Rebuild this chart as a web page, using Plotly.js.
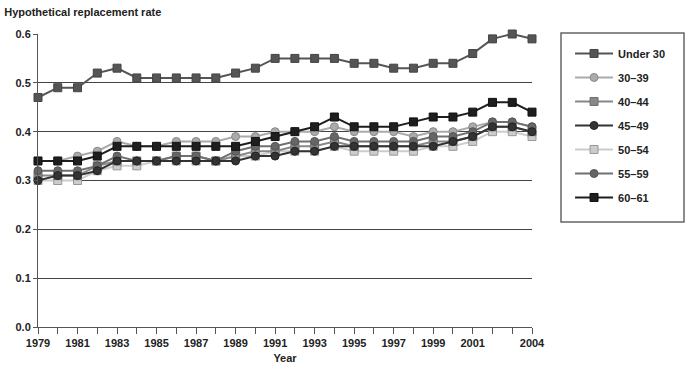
<!DOCTYPE html>
<html>
<head>
<meta charset="utf-8">
<script src="https://cdn.plot.ly/plotly-3.0.1.min.js"></script>
<style>html,body{margin:0;padding:0;background:#fff}#chart{width:700px;height:366px}</style>
</head>
<body>
<div id="chart"></div>
<script>
const years = [1979,1980,1981,1982,1983,1984,1985,1986,1987,1988,1989,1990,1991,1992,1993,1994,1995,1996,1997,1998,1999,2000,2001,2002,2003,2004];
const tickLabels = ['1979','','1981','','1983','','1985','','1987','','1989','','1991','','1993','','1995','','1997','','1999','','2001','','','2004'];
const yTicks = [0,0.1,0.2,0.3,0.4,0.5,0.6];

const under30 = [.47,.49,.49,.52,.53,.51,.51,.51,.51,.51,.52,.53,.55,.55,.55,.55,.54,.54,.53,.53,.54,.54,.56,.59,.60,.59];
const age30_39 = [.34,.34,.35,.36,.38,.37,.37,.38,.38,.38,.39,.39,.40,.40,.40,.41,.40,.40,.40,.39,.40,.40,.41,.42,.42,.41];
const age40_44 = [.31,.31,.31,.33,.34,.34,.34,.35,.35,.34,.35,.36,.36,.37,.37,.38,.37,.37,.37,.37,.38,.38,.39,.41,.41,.40];
const age45_49 = [.30,.31,.31,.32,.34,.34,.34,.34,.34,.34,.34,.35,.35,.36,.36,.37,.37,.37,.37,.37,.37,.38,.39,.41,.41,.40];
const age50_54 = [.30,.30,.30,.32,.33,.33,.34,.34,.34,.34,.35,.35,.36,.36,.36,.37,.36,.36,.36,.36,.37,.37,.38,.40,.40,.39];
const age55_59 = [.32,.32,.32,.33,.35,.34,.34,.35,.35,.34,.36,.37,.37,.38,.38,.39,.38,.38,.38,.38,.39,.39,.40,.42,.42,.41];
const age60_61 = [.34,.34,.34,.35,.37,.37,.37,.37,.37,.37,.37,.38,.39,.40,.41,.43,.41,.41,.41,.42,.43,.43,.44,.46,.46,.44];

const seriesNames = ['Under 30','30\u201339','40\u201344','45\u201349','50\u201354','55\u201359','60\u201361'];
const seriesData = [under30, age30_39, age40_44, age45_49, age50_54, age55_59, age60_61];
const styles = [
  {line:'#555555', fill:'#555555', edge:'#444444', symbol:'square'},
  {line:'#aaaaaa', fill:'#aaaaaa', edge:'#888888', symbol:'circle'},
  {line:'#888888', fill:'#888888', edge:'#6f6f6f', symbol:'square'},
  {line:'#333333', fill:'#333333', edge:'#222222', symbol:'circle'},
  {line:'#cccccc', fill:'#cccccc', edge:'#999999', symbol:'square'},
  {line:'#707070', fill:'#666666', edge:'#555555', symbol:'circle'},
  {line:'#1e1e1e', fill:'#1e1e1e', edge:'#111111', symbol:'square'}
];

// draw order: light series behind, darker on top
const drawOrder = [4,2,1,5,3,6,0];
const traces = [];
seriesNames.forEach((name, i) => {
  const s = styles[i];
  traces.push({
    type:'scatter', mode:'lines+markers', name:name, x:years, y:seriesData[i],
    legendgroup:'g'+i, legendrank:i+1,
    line:{color:s.line, width:2},
    marker:{symbol:s.symbol, size:8, color:s.fill, line:{color:s.edge, width:1}},
    cliponaxis:false
  });
});
const ordered = drawOrder.map(i => traces[i]);

const fontFam = '"Liberation Sans", Arial, sans-serif';
const layout = {
  width:700, height:366,
  margin:{l:38, r:168, t:34, b:39},
  paper_bgcolor:'#fff', plot_bgcolor:'#fff',
  font:{family:fontFam, size:11, color:'#222'},
  title:{text:'<b>Hypothetical replacement rate</b>', xref:'container', yref:'container', x:0.006, xanchor:'left', y:0.968, yanchor:'middle', font:{size:11, color:'#222', family:fontFam}},
  xaxis:{
    range:[1979,2004], tickmode:'array', tickvals:years, ticktext:tickLabels,
    ticks:'outside', ticklen:6, tickcolor:'#555', tickwidth:1,
    showline:true, linecolor:'#555', linewidth:1, showgrid:false, zeroline:false,
    tickfont:{family:'"Liberation Sans Narrow", "Liberation Sans", Arial, sans-serif', size:11, color:'#222', weight:'bold'},
    title:{text:'<b>Year</b>', font:{size:11, color:'#222'}, standoff:6}
  },
  yaxis:{
    range:[0,0.6], tickmode:'array', tickvals:yTicks, tickformat:'.1f',
    ticks:'outside', ticklen:4, tickcolor:'#555',
    showline:true, linecolor:'#555', linewidth:1,
    showgrid:true, gridcolor:'#444', gridwidth:1, zeroline:false,
    tickfont:{size:11, color:'#222', weight:'bold'}
  },
  legend:{
    x:1.077, xanchor:'left', y:0.983, yanchor:'top',
    borderwidth:0, bgcolor:'rgba(0,0,0,0)',
    font:{size:11, color:'#222', weight:'bold'},
    traceorder:'grouped', tracegroupgap:5, itemwidth:38
  },
  shapes:[{
    type:'rect', xref:'paper', yref:'paper',
    x0:1.0587, x1:1.3077, y0:0.3584, y1:1.0034,
    line:{color:'#666', width:1.5}, fillcolor:'rgba(0,0,0,0)', layer:'below'
  }],
  showlegend:true
};

Plotly.newPlot('chart', ordered, layout, {displayModeBar:false, staticPlot:true});
</script>
</body>
</html>
